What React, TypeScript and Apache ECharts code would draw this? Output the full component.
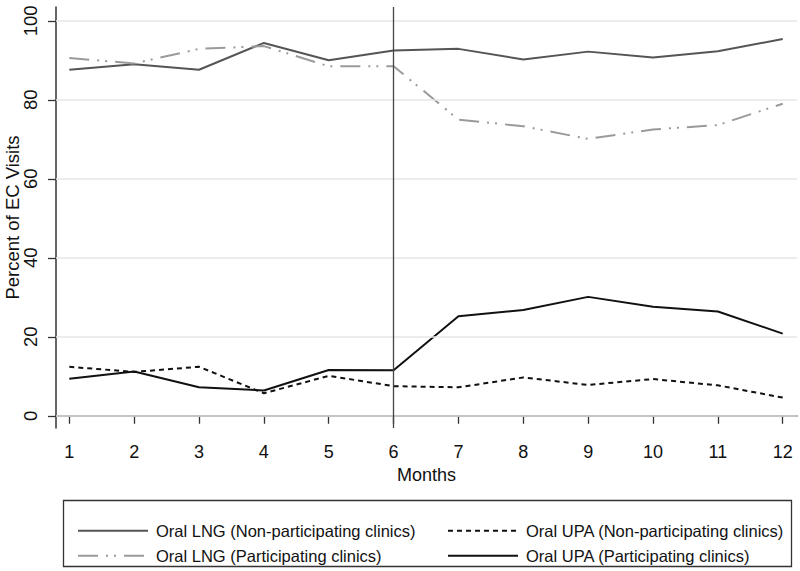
import React, { useEffect, useRef } from "react";
import * as echarts from "echarts";

const months = [1, 2, 3, 4, 5, 6, 7, 8, 9, 10, 11, 12];
const yTicks = [0, 20, 40, 60, 80, 100];
const lngNonPart = [87.6, 89.0, 87.6, 94.4, 90.0, 92.5, 92.9, 90.2, 92.2, 90.7, 92.3, 95.4];
const lngPart = [90.6, 89.2, 92.9, 93.6, 88.5, 88.5, 75.0, 73.3, 70.1, 72.5, 73.6, 79.0];
const upaNonPart = [12.4, 11.1, 12.4, 5.7, 10.1, 7.5, 7.2, 9.7, 7.8, 9.3, 7.7, 4.6];
const upaPart = [9.4, 11.2, 7.2, 6.4, 11.6, 11.5, 25.2, 26.8, 30.1, 27.6, 26.4, 20.8];
const interventionMonth = 6;

const names = [
  "Oral LNG (Non-participating clinics)",
  "Oral UPA (Non-participating clinics)",
  "Oral LNG (Participating clinics)",
  "Oral UPA (Participating clinics)",
];

const FONT = "'Liberation Sans', Arial, Helvetica, sans-serif";

export default function App() {
  const ref = useRef<HTMLDivElement>(null);
  useEffect(() => {
    const chart = echarts.init(ref.current!, null, { renderer: "svg" });
    const pair = (vals: number[]) => months.map((m, i) => [m, vals[i]]);
    const legendCommon = {
      orient: "vertical",
      top: 515.7,
      itemWidth: 70,
      itemHeight: 20,
      itemGap: 5,
      itemStyle: { opacity: 0 },
      textStyle: { fontFamily: FONT, fontSize: 16.5, color: "#111", lineHeight: 20, padding: [0, 0, 0, 3] },
    };
    chart.setOption({
      animation: false,
      backgroundColor: "#ffffff",
      grid: { left: 56, right: 3, top: 7, bottom: 143, outerBoundsMode: "none" },
      xAxis: {
        type: "value",
        min: 0.795,
        max: 12.22,
        name: "Months",
        nameLocation: "middle",
        nameGap: 38,
        nameMoveOverlap: false,
        nameTextStyle: { fontFamily: FONT, fontSize: 18, color: "#111" },
        axisLine: { show: true, lineStyle: { color: "#333", width: 1.5 } },
        axisTick: { show: true, customValues: months, length: 8, lineStyle: { color: "#333", width: 1.3 } },
        axisLabel: { customValues: months, margin: 15, fontFamily: FONT, fontSize: 18, color: "#111" },
        splitLine: { show: false },
      },
      yAxis: {
        type: "value",
        min: -3.1,
        max: 103.5,
        name: "Percent of EC Visits",
        nameLocation: "middle",
        nameRotate: 90,
        nameGap: 34,
        nameMoveOverlap: false,
        nameTextStyle: { fontFamily: FONT, fontSize: 18.5, color: "#111" },
        axisLine: { show: true, lineStyle: { color: "#333", width: 1.5 } },
        axisTick: { show: true, customValues: yTicks, length: 8, lineStyle: { color: "#333", width: 1.3 } },
        axisLabel: { customValues: yTicks, rotate: 90, margin: 16, fontFamily: FONT, fontSize: 18.5, color: "#111" },
        splitLine: { show: false },
      },
      legend: [
        { ...legendCommon, left: 72, data: [names[0], names[2]] },
        { ...legendCommon, left: 442, data: [names[1], names[3]] },
      ],
      graphic: [
        {
          type: "rect",
          shape: { x: 63.5, y: 500.5, width: 728, height: 66 },
          style: { fill: "none", stroke: "#333", lineWidth: 1.3 },
          silent: true,
        },
      ],
      series: [
        {
          name: "_grid",
          type: "line",
          data: [],
          silent: true,
          z: 1,
          markLine: {
            silent: true,
            symbol: "none",
            label: { show: false },
            lineStyle: { color: "#e6e6e6", width: 1.5, type: "solid" },
            data: yTicks.map((v) => ({ yAxis: v })),
          },
        },
        {
          name: "_vline",
          type: "line",
          data: [],
          silent: true,
          z: 2,
          markLine: {
            silent: true,
            symbol: "none",
            label: { show: false },
            lineStyle: { color: "#444", width: 1.3, type: "solid" },
            data: [{ xAxis: interventionMonth }],
          },
        },
        {
          name: names[0],
          type: "line",
          data: pair(lngNonPart),
          symbol: "none",
          z: 3,
          lineStyle: { color: "#555555", width: 2 },
          itemStyle: { color: "#555555" },
        },
        {
          name: names[2],
          type: "line",
          data: pair(lngPart),
          symbol: "none",
          z: 3,
          lineStyle: { color: "#9a9a9a", width: 2, type: [20, 8, 2, 6, 2, 8] },
          itemStyle: { color: "#9a9a9a" },
        },
        {
          name: names[1],
          type: "line",
          data: pair(upaNonPart),
          symbol: "none",
          z: 3,
          lineStyle: { color: "#111111", width: 2, type: [5, 4] },
          itemStyle: { color: "#111111" },
        },
        {
          name: names[3],
          type: "line",
          data: pair(upaPart),
          symbol: "none",
          z: 3,
          lineStyle: { color: "#111111", width: 2 },
          itemStyle: { color: "#111111" },
        },
      ],
    });
    return () => chart.dispose();
  }, []);
  return <div ref={ref} style={{ width: 800, height: 571, position: "absolute", left: 0, top: 0 }} />;
}
